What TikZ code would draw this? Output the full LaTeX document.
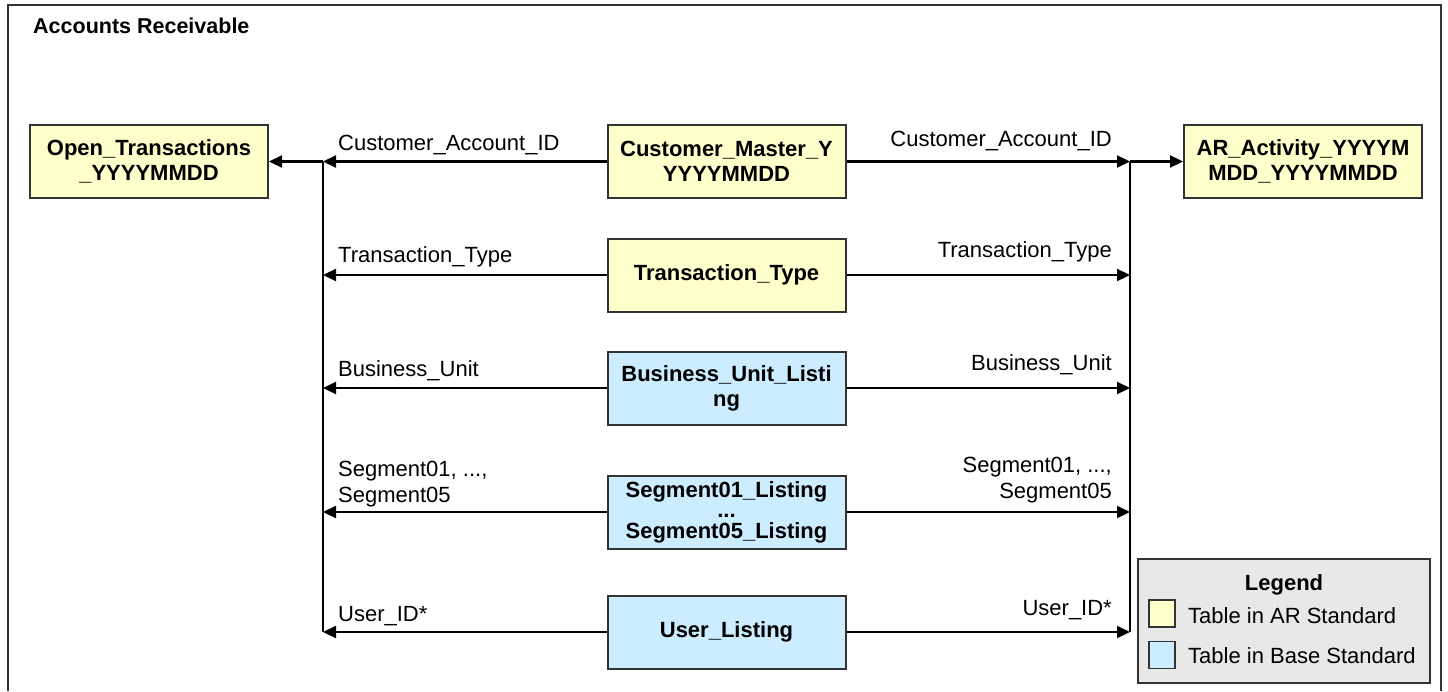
\documentclass[tikz,border=0pt]{standalone}
\usepackage{fontspec}
\setmainfont{Liberation Sans}
\usetikzlibrary{arrows.meta}

\definecolor{arYellow}{HTML}{FFFFCC}
\definecolor{baseBlue}{HTML}{CCECFF}
\definecolor{legendGray}{HTML}{E8E8E8}
\definecolor{boxEdge}{HTML}{333333}

\tikzstyle{arTable}=[rectangle,draw=boxEdge,line width=2pt,fill=arYellow,minimum width=238pt,minimum height=73pt,align=center,inner sep=0pt,font=\fontsize{22}{25}\selectfont\bfseries]
\tikzstyle{baseTable}=[arTable,fill=baseBlue]
\tikzstyle{keyLabel}=[inner sep=0pt,align=left,font=\fontsize{22}{26}\selectfont]
\tikzstyle{swatch}=[rectangle,draw=boxEdge,line width=1.4pt,minimum width=26pt,minimum height=27pt,inner sep=0pt]
\tikzstyle{link}=[line width=2.2pt,-{Triangle[length=13pt,width=12pt]}]

\begin{document}
\begin{tikzpicture}[x=1pt,y=-1pt]
	\useasboundingbox (0,0) rectangle (1448,691);
	\draw [line width=2pt,draw=boxEdge] (8,691) -- (8,5) -- (1441,5) -- (1441,691);

	\node (title) at (33,33) [anchor=base west,inner sep=0pt,font=\fontsize{21.5}{24}\selectfont\bfseries] {Accounts Receivable};


		\node (OT) at (149,161.5) [arTable] {Open\_Transactions\\\_YYYYMMDD};
		\node (CM) at (726.5,161.5) [arTable] {Customer\_Master\_Y\\YYYYMMDD};
		\node (AR) at (1303,161.5) [arTable] {AR\_Activity\_YYYYM\\MDD\_YYYYMMDD};

		\node (TT) at (726.5,275) [arTable] {Transaction\_Type};
		\node (BU) at (726.5,388) [baseTable] {Business\_Unit\_Listi\\ng};
		\node (SG) at (726.5,512) [baseTable,font=\fontsize{22}{20.5}\selectfont\bfseries] {Segment01\_Listing\\...\\Segment05\_Listing};
		\node (UL) at (726.5,632) [baseTable] {User\_Listing};

	\coordinate (LT) at (323,161.5);
	\coordinate (LB) at (323,632);
	\coordinate (RT) at (1130,161.5);
	\coordinate (RB) at (1130,632);

	\draw [line width=1.8pt] (LT) -- (LB);
	\draw [line width=1.8pt] (RT) -- (RB);

	\draw [link] (CM.west) to (LT);
	\draw [link] (LT) to (OT.east);
	\draw [link] (CM.east) to (RT);
	\draw [link] (RT) to (AR.west);

	\draw [link] (TT.west) to (TT.west -| LT);
	\draw [link] (TT.east) to (TT.east -| RT);
	\draw [link] (BU.west) to (BU.west -| LT);
	\draw [link] (BU.east) to (BU.east -| RT);
	\draw [link] (SG.west) to (SG.west -| LT);
	\draw [link] (SG.east) to (SG.east -| RT);
	\draw [link] (UL.west) to (UL.west -| LT);
	\draw [link] (UL.east) to (UL.east -| RT);

		\node (lCA) at (338,150) [keyLabel,anchor=base west] {Customer\_Account\_ID};
		\node (rCA) at (1112,146) [keyLabel,anchor=base east] {Customer\_Account\_ID};
		\node (lTT) at (338,262) [keyLabel,anchor=base west] {Transaction\_Type};
		\node (rTT) at (1112,257) [keyLabel,anchor=base east] {Transaction\_Type};
		\node (lBU) at (338,376) [keyLabel,anchor=base west] {Business\_Unit};
		\node (rBU) at (1112,370) [keyLabel,anchor=base east] {Business\_Unit};
		\node (lSG) at (338,502) [keyLabel,anchor=base west] {Segment01, ...,\\Segment05};
		\node (rSG) at (1112,498) [keyLabel,anchor=base east,align=right] {Segment01, ...,\\Segment05};
		\node (lUL) at (338,621) [keyLabel,anchor=base west] {User\_ID*};
		\node (rUL) at (1112,615) [keyLabel,anchor=base east] {User\_ID*};

	\node (LG) at (1284,621) [rectangle,draw=boxEdge,line width=2pt,fill=legendGray,minimum width=292pt,minimum height=124pt] {};
	\node (LGt) at (1284,590) [anchor=base,inner sep=0pt,font=\fontsize{22}{24}\selectfont\bfseries] {Legend};
		\node (k1) at (1162,613.5) [swatch,fill=arYellow] {};
		\node (k2) at (1162,655) [swatch,fill=baseBlue] {};
		\node (t1) at (1188,623) [keyLabel,anchor=base west] {Table in AR Standard};
		\node (t2) at (1188,663) [keyLabel,anchor=base west] {Table in Base Standard};


\end{tikzpicture}
\end{document}
